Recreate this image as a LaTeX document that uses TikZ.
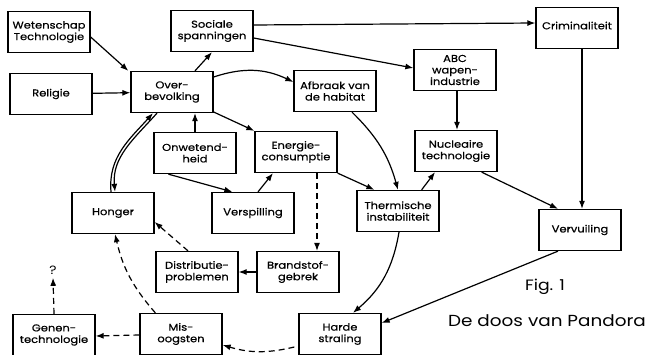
\documentclass[tikz,border=0pt]{standalone}
\usepackage{fontspec}
\setmainfont{Poppins}[FakeStretch=1.15]
\newfontfamily\boxfont{Poppins}[FakeStretch=1.15,FakeBold=0.6]
\usetikzlibrary{arrows.meta}
\begin{document}
\begin{tikzpicture}[x=1pt,y=-1pt,
  box/.style={draw,line width=1.3pt,minimum width=82pt,minimum height=41pt,inner sep=1pt,align=center,font=\boxfont\fontsize{10}{11.5}\selectfont},
  conn/.style={line width=1.2pt,-{Latex[length=8pt,width=6pt]}},
  dconn/.style={conn,dash pattern=on 6pt off 4pt}]
\useasboundingbox (0,0) rectangle (651,355);
\node[box] (wet) at (49,32) {Wetenschap\\Technologie};
\node[box] (rel) at (51,94) {Religie};
\node[box] (over) at (172,92) {Over-\\bevolking};
\node[box] (soc) at (212,31) {Sociale\\spanningen};
\node[box] (onw) at (195,153) {Onwetend-\\heid};
\node[box] (ener) at (296,152) {Energie-\\consumptie};
\node[box] (afb) at (335,91) {Afbraak van\\de habitat};
\node[box] (abc) at (455,70) {ABC\\wapen-\\industrie};
\node[box] (crim) at (577,28) {\raisebox{5pt}{Criminaliteit}};
\node[box] (nuc) at (456,151) {Nucleaire\\technologie};
\node[box] (therm) at (398,211) {Thermische\\instabiliteit};
\node[box] (versp) at (253,213) {Verspilling};
\node[box] (hong) at (113,213) {Honger};
\node[box] (dist) at (197,272) {Distributie-\\problemen};
\node[box] (brand) at (298,272) {Brandstof-\\gebrek};
\node[box] (verv) at (580,230) {\raisebox{-3pt}{Vervuiling}};
\node[box] (gen) at (54,335) {Genen-\\technologie};
\node[box] (mis) at (181,334) {Mis-\\oogsten};
\node[box] (harde) at (340,334) {Harde\\straling};
\node[font=\fontsize{12}{14}\selectfont] (q) at (53,270) {?};
\node[font=\fontsize{15}{17}\selectfont] (fig) at (545,287) {Fig. 1};
\node[font=\fontsize{16}{18}\selectfont] (title) at (547,321) {De doos van Pandora};
% connectors
\draw[conn] ([yshift=-5pt]wet.east) -- ([xshift=-2pt]over.north west);
\draw[conn] (rel) -- (over);
\draw[conn] ([xshift=23pt]over.north) -- (soc.south);
\draw[conn] ([yshift=6pt]soc.east) -- ([yshift=5pt]crim.west);
\draw[conn] ([yshift=-7pt]soc.east) -- ([yshift=2pt]abc.west);
\draw[conn] ([yshift=15pt]over.east) to[bend left=22] ([yshift=9pt]afb.west);
\draw[conn] ([yshift=-20pt]over.east) -- (ener.north west);
\draw[conn] (onw.north) -- (onw.north|-over.south);
\draw[conn] ([xshift=15pt]onw.south west) -- ([xshift=21pt]versp.north west);
\draw[conn] ([xshift=5pt]versp.north) -- ([xshift=-23pt]ener.south);
\draw[conn] (ener.south east) -- ([xshift=18pt]therm.north west);
\draw[dconn] ([xshift=21pt]ener.south) -- ([xshift=19pt]brand.north);
\draw[conn] ([xshift=17pt]afb.south) to[bend left=15] (therm.north);
\draw[conn] ([xshift=2pt]abc.south) -- ([xshift=2pt]abc.south|-nuc.north);
\draw[conn] ([xshift=-18pt]therm.north east) -- ([xshift=-21pt]nuc.south);
\draw[conn] ([xshift=-16pt]nuc.south east) -- ([xshift=-22pt]verv.north);
\draw[conn] ([xshift=5pt]crim.south) -- ([xshift=2pt]verv.north);
\draw[conn] ([xshift=-22pt]verv.south) -- ([yshift=11pt]harde.east);
\draw[conn] ([xshift=1pt]therm.south) to[bend left=20] ([xshift=13pt]harde.north);
\draw[dconn] ([xshift=-4pt,yshift=-13pt]harde.west) to[bend left=15] ([yshift=-11pt]mis.east);
\draw[dconn] ([yshift=-1pt]mis.west) -- ([yshift=-1pt]gen.east);
\draw[dconn] (gen.north) -- (q.south);
\draw[dconn] ([xshift=16pt]mis.north west) to[bend left=14] ([xshift=2pt]hong.south);
\draw[dconn] ([xshift=-9pt]dist.north) -- ([yshift=-9pt]hong.east);
\draw[conn] (brand.west) -- (dist.east);
\draw[conn] ([xshift=-2pt]hong.north) to[out=95,in=228] ([xshift=-19pt]over.south);
\draw[conn] ([xshift=-15pt]over.south) to[out=228,in=95] ([xshift=2pt]hong.north);
\end{tikzpicture}
\end{document}
